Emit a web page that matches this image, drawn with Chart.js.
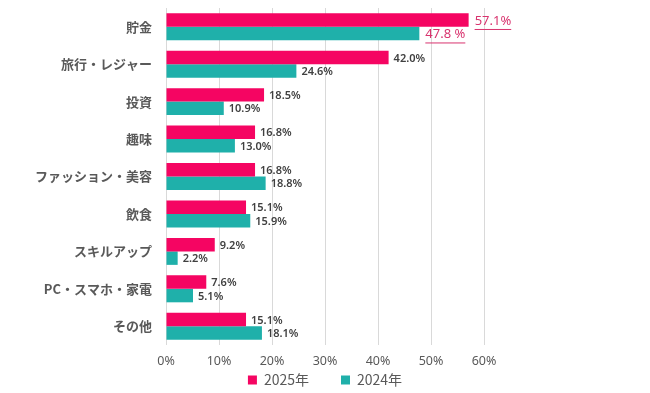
<!DOCTYPE html>
<html>
<head>
<meta charset="utf-8">
<script src="https://cdn.jsdelivr.net/npm/chart.js@4"></script>
<style>
  html, body { margin: 0; padding: 0; background: #ffffff; }
  #wrap { width: 650px; height: 393px; }
</style>
</head>
<body>
<div id="wrap"><canvas id="chart" width="650" height="393"></canvas></div>
<script>
// 使い道の内訳: 2025年と2024年の比較 (横棒グラフ)
const categories = ["貯金", "旅行・レジャー", "投資", "趣味", "ファッション・美容", "飲食", "スキルアップ", "PC・スマホ・家電", "その他"];
const values2025 = [57.1, 42.0, 18.5, 16.8, 16.8, 15.1, 9.2, 7.6, 15.1];
const values2024 = [47.8, 24.6, 10.9, 13.0, 18.8, 15.9, 2.2, 5.1, 18.1];
const labels2025 = ["57.1%", "42.0%", "18.5%", "16.8%", "16.8%", "15.1%", "9.2%", "7.6%", "15.1%"];
const labels2024 = ["47.8 %", "24.6%", "10.9%", "13.0%", "18.8%", "15.9%", "2.2%", "5.1%", "18.1%"];
const highlighted = [0];          // 強調 (ピンク・下線) するカテゴリ
const xTicks = [0, 10, 20, 30, 40, 50, 60];

const PINK = "#F50562";
const TEAL = "#1FB0AA";
const TEXT = "#595959";

// 棒の右に値ラベルを描く
const valueLabels = {
  id: "valueLabels",
  afterDatasetsDraw(chart) {
    const ctx = chart.ctx;
    const texts = [labels2025, labels2024];
    ctx.save();
    ctx.textBaseline = "middle";
    ctx.textAlign = "left";
    chart.data.datasets.forEach((ds, di) => {
      const meta = chart.getDatasetMeta(di);
      meta.data.forEach((bar, i) => {
        const hl = highlighted.includes(i);
        const txt = texts[di][i];
        const x = bar.x + (hl ? 6 : 5);
        const y = bar.y + 1;
        ctx.font = hl ? "13px 'Noto Sans', sans-serif" : "600 11px 'Noto Sans', sans-serif";
        ctx.fillStyle = hl ? "#D8336E" : "#404040";
        ctx.fillText(txt, x, y);
        if (hl) {
          const w = ctx.measureText(txt).width;
          ctx.strokeStyle = "#D8336E";
          ctx.lineWidth = 1;
          ctx.beginPath();
          ctx.moveTo(x, y + 8.5);
          ctx.lineTo(x + w, y + 8.5);
          ctx.stroke();
        }
      });
    });
    ctx.restore();
  }
};

// 凡例をキャンバス全体の中央に寄せる
const centerLegend = {
  id: "centerLegend",
  afterLayout(chart) {
    if (chart.legend) {
      chart.legend.left = 0;
      chart.legend.right = chart.width;
    }
  }
};

new Chart(document.getElementById("chart"), {
  type: "bar",
  data: {
    labels: categories,
    datasets: [
      { label: "2025年", data: values2025, backgroundColor: PINK,
        categoryPercentage: 0.72, barPercentage: 1.0 },
      { label: "2024年", data: values2024, backgroundColor: TEAL,
        categoryPercentage: 0.72, barPercentage: 1.0 },
    ],
  },
  options: {
    indexAxis: "y",
    responsive: false,
    animation: false,
    layout: { padding: { left: 0, right: 166, top: 8, bottom: 0 } },
    scales: {
      x: {
        min: 0, max: 60,
        afterBuildTicks(scale) { scale.ticks = xTicks.map(v => ({ value: v })); },
        afterFit(scale) { scale.height = 24; },
        ticks: {
          color: TEXT, padding: 9,
          font: { family: "'Noto Sans', sans-serif", size: 12.5 },
          callback: v => v + "%",
        },
        grid: { color: "#D9D9D9", drawTicks: false },
        border: { display: false },
      },
      y: {
        afterFit(scale) {
          scale.width = 166;
          scale.paddingTop = 0;
          scale.paddingBottom = 0;
        },
        ticks: {
          color: TEXT, padding: 14,
          font: { family: "'Noto Sans CJK JP', sans-serif", size: 13, weight: "bold" },
        },
        grid: { display: false, drawTicks: false },
        border: { display: false },
      },
    },
    plugins: {
      legend: {
        position: "bottom",
        maxHeight: 24,
        labels: {
          color: TEXT, boxWidth: 9, boxHeight: 9, padding: 4,
          font: { family: "'Noto Sans CJK JP', sans-serif", size: 14 },
          generateLabels(chart) {
            const items = Chart.defaults.plugins.legend.labels.generateLabels(chart);
            items.forEach((it, i) => {
              it.lineWidth = 0;
              if (i < items.length - 1) it.text = it.text + "\u3000\u3000";
            });
            return items;
          },
        },
      },
      tooltip: { enabled: false },
    },
  },
  plugins: [valueLabels, centerLegend],
});
</script>
</body>
</html>
